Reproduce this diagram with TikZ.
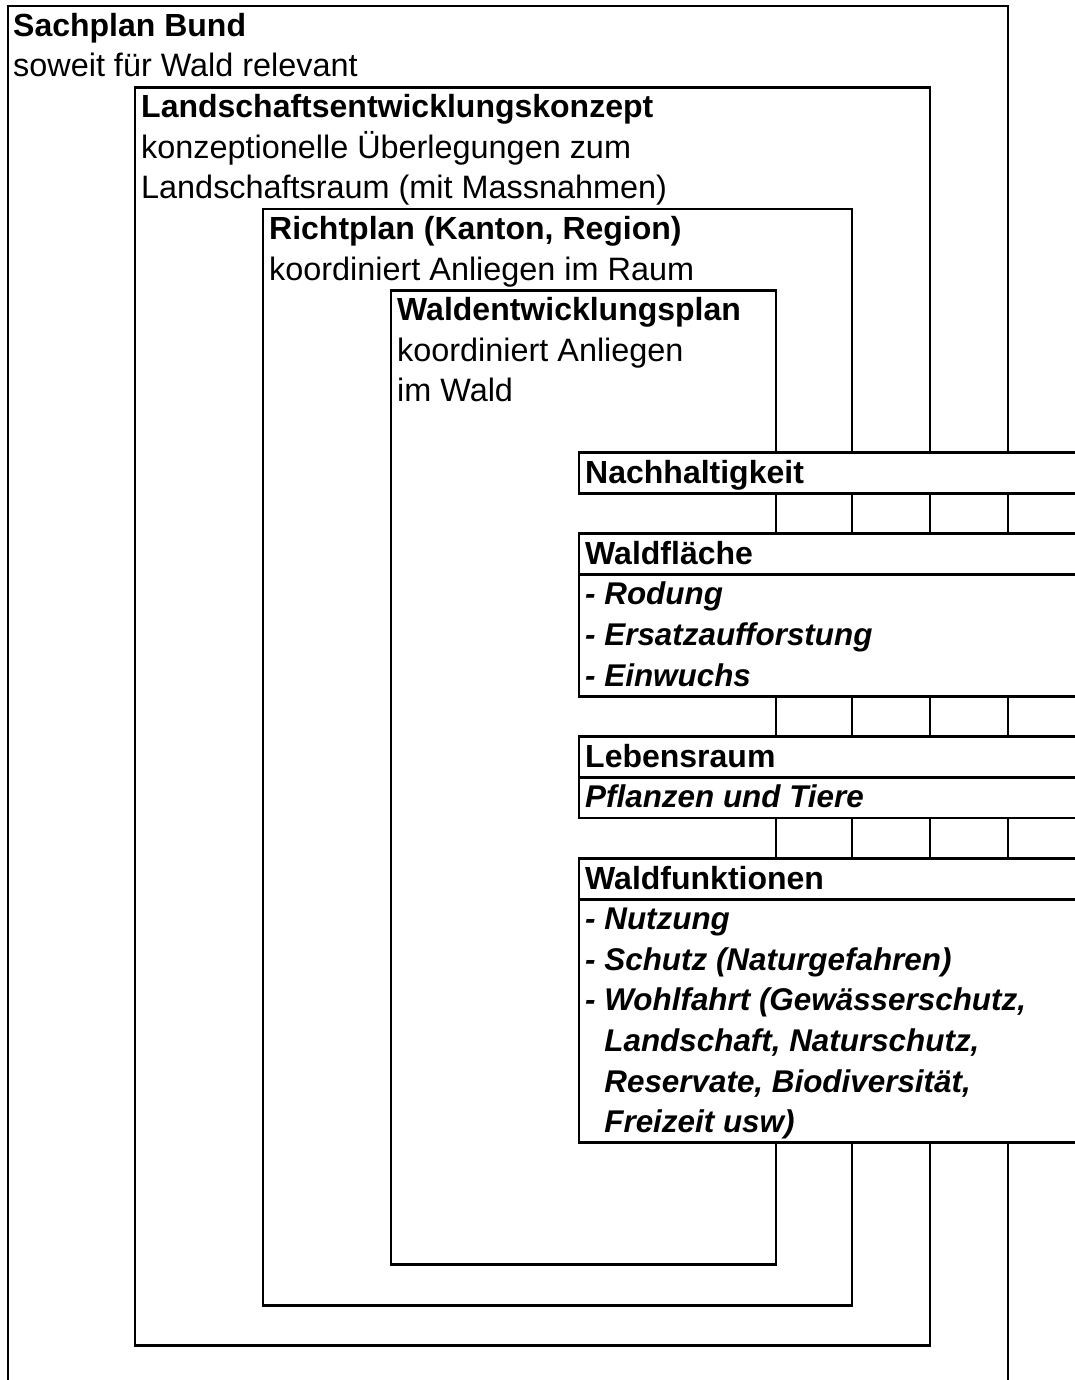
\documentclass[tikz,border=0pt]{standalone}
\usepackage{fontspec}
\setmainfont{Liberation Sans}
\begin{document}
\begin{tikzpicture}[x=1pt,y=-1pt,
  frame/.style={line width=2.9pt,line cap=rect,black},
  lbl/.style={anchor=base west,inner sep=0pt,font=\fontsize{32.4}{40}\selectfont},
  ttl/.style={lbl,font=\fontsize{32}{40}\selectfont\bfseries},
  itm/.style={lbl,font=\fontsize{31.4}{40}\selectfont\bfseries\itshape}]
\useasboundingbox[fill=white] (0,0) rectangle (1075,1380);
% ---- nested frames (right sides interrupted by the topic bands)
% Sachplan Bund
\draw[frame] (8,1380) -- (8,6) -- (1008,6) -- (1008,452.6);
\draw[frame] (1008,493.2) -- (1008,533.8);
\draw[frame] (1008,696.2) -- (1008,736.8);
\draw[frame] (1008,818) -- (1008,858.6);
\draw[frame] (1008,1142.8) -- (1008,1380);
% Landschaftsentwicklungskonzept
\draw[frame] (930,452.6) -- (930,87.2) -- (135,87.2) -- (135,1345.8) -- (930,1345.8) -- (930,1142.8);
\draw[frame] (930,493.2) -- (930,533.8);
\draw[frame] (930,696.2) -- (930,736.8);
\draw[frame] (930,818) -- (930,858.6);
% Richtplan
\draw[frame] (852,452.6) -- (852,209) -- (263,209) -- (263,1305.2) -- (852,1305.2) -- (852,1142.8);
\draw[frame] (852,493.2) -- (852,533.8);
\draw[frame] (852,696.2) -- (852,736.8);
\draw[frame] (852,818) -- (852,858.6);
% Waldentwicklungsplan
\draw[frame] (776,452.6) -- (776,290.2) -- (391,290.2) -- (391,1264.6) -- (776,1264.6) -- (776,1142.8);
\draw[frame] (776,493.2) -- (776,533.8);
\draw[frame] (776,696.2) -- (776,736.8);
\draw[frame] (776,818) -- (776,858.6);
% ---- topic bands
\draw[frame] (1080,452.6) -- (579,452.6) -- (579,493.2) -- (1080,493.2);
\draw[frame] (1080,533.8) -- (579,533.8) -- (579,696.2) -- (1080,696.2);
\draw[frame] (579,574.4) -- (1080,574.4);
\draw[frame] (1080,736.8) -- (579,736.8) -- (579,818) -- (1080,818);
\draw[frame] (579,777.4) -- (1080,777.4);
\draw[frame] (1080,858.6) -- (579,858.6) -- (579,1142.8) -- (1080,1142.8);
\draw[frame] (579,899.2) -- (1080,899.2);
% ---- texts
\node[ttl] (sb)  at (13,36.5) {Sachplan Bund};
\node[lbl] (sb2) at (13,77) {soweit für Wald relevant};
\node[ttl] (lk)  at (141,117.7) {Landschaftsentwicklungskonzept};
\node[lbl] (lk2) at (141,158.3) {konzeptionelle Überlegungen zum};
\node[lbl] (lk3) at (141,198.9) {Landschaftsraum (mit Massnahmen)};
\node[ttl] (rp)  at (269,239.5) {Richtplan (Kanton, Region)};
\node[lbl] (rp2) at (269,280.1) {koordiniert Anliegen im Raum};
\node[ttl] (wp)  at (397,320.7) {Waldentwicklungsplan};
\node[lbl] (wp2) at (397,361.3) {koordiniert Anliegen};
\node[lbl] (wp3) at (397,401.9) {im Wald};
\node[ttl] (na)  at (585,483.1) {Nachhaltigkeit};
\node[ttl] (wf)  at (585,564.3) {Waldfläche};
\node[itm] (wf1) at (585,604.9) {- Rodung};
\node[itm] (wf2) at (585,645.5) {- Ersatzaufforstung};
\node[itm] (wf3) at (585,686.1) {- Einwuchs};
\node[ttl] (lr)  at (585,767.3) {Lebensraum};
\node[itm] (lr1) at (585,807.9) {Pflanzen und Tiere};
\node[ttl] (fu)  at (585,889.1) {Waldfunktionen};
\node[itm] (fu1) at (585,929.7) {- Nutzung};
\node[itm] (fu2) at (585,970.3) {- Schutz (Naturgefahren)};
\node[itm] (fu3) at (585,1010.9) {- Wohlfahrt (Gewässerschutz,};
\node[itm] (fu4) at (585,1051.5) {\phantom{- }Landschaft, Naturschutz,};
\node[itm] (fu5) at (585,1092.1) {\phantom{- }Reservate, Biodiversität,};
\node[itm] (fu6) at (585,1132.7) {\phantom{- }Freizeit usw)};
\end{tikzpicture}
\end{document}
